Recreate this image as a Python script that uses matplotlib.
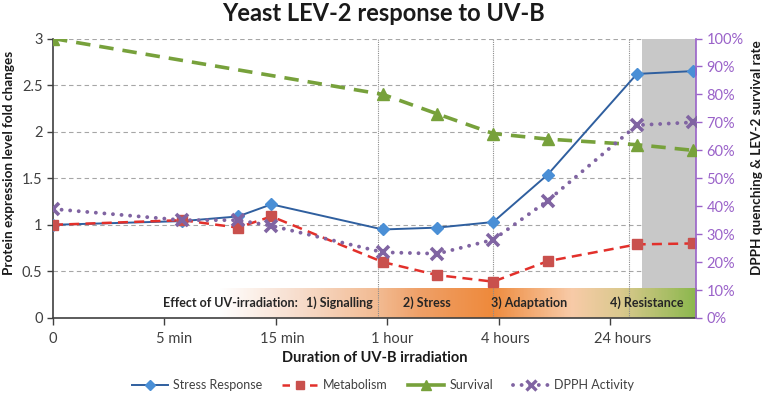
import numpy as np
import matplotlib
matplotlib.use('Agg')
import matplotlib.pyplot as plt
from matplotlib.colors import LinearSegmentedColormap
from matplotlib.lines import Line2D
from matplotlib.ticker import FuncFormatter

plt.rcParams['font.family'] = ['Lato', 'DejaVu Sans']

# data
tick_labels = ['0', '5 min', '15 min', '1 hour', '4 hours', '24 hours']
x_pos = [0, 1.16, 1.66, 1.96, 2.96, 3.45, 3.95, 4.44, 5.24, 5.74]
stress = [1.0, 1.04, 1.09, 1.22, 0.95, 0.97, 1.03, 1.54, 2.62, 2.65]
metabolism = [1.0, 1.05, 0.97, 1.09, 0.60, 0.46, 0.39, 0.61, 0.79, 0.80]
survival = [1.00, np.nan, np.nan, np.nan, 0.80, 0.73, 0.66, 0.64, 0.62, 0.60]
dpph = [0.39, 0.35, 0.35, 0.33, 0.235, 0.23, 0.28, 0.42, 0.69, 0.70]
phases = ['1) Signalling', '2) Stress', '3) Adaptation', '4) Resistance']
phase_x = [2.574, 3.359, 4.269, 5.327]

XMAX = 5.77
purple = '#9a62c9'

fig = plt.figure(figsize=(7.66, 3.95), dpi=100)
ax = fig.add_axes([0.0692, 0.195, 0.8394, 0.7075])
ax2 = ax.twinx()

ax.set_xlim(0, XMAX)
ax.set_ylim(0, 3)
ax2.set_ylim(0, 1)

# grid + shading
for yv in np.arange(0.5, 3.01, 0.5):
    ax.axhline(yv, color='#a6a6a6', lw=0.8, ls=(0, (4, 3)), zorder=0)
ax.axvspan(5.29, XMAX, color='#c8c8c8', zorder=0.5, lw=0)

# gradient band with phases
stops = [(0.0, '#ffffff'), (0.17, '#f7dccb'), (0.34, '#f2b98f'),
         (0.42, '#efa068'), (0.57, '#ee8a3c'), (0.74, '#f8cba8'),
         (0.84, '#dcc98f'), (1.0, '#8cb84e')]
cmap = LinearSegmentedColormap.from_list('band', stops)
grad = np.linspace(0, 1, 400).reshape(1, -1)
ax.imshow(grad, cmap=cmap, extent=[1.48, XMAX, 0, 0.32], aspect='auto',
          zorder=1, interpolation='bilinear')
ax.set_xlim(0, XMAX)
ax.set_ylim(0, 3)

for xv in [2.915, 3.946, 5.166]:
    ax.axvline(xv, color='#8c8c8c', lw=0.8, ls=(0, (1, 1)), zorder=1.5)

ax.text(1.596, 0.165, 'Effect of UV-irradiation:', ha='center', va='center',
        fontsize=9, fontweight='bold', color='#262626', zorder=2)
for t, xv in zip(phases, phase_x):
    ax.text(xv, 0.165, t, ha='center', va='center', fontsize=9,
            fontweight='bold', color='#262626', zorder=2)

# series
ax.plot(x_pos, stress, color='#2f5f9f', lw=1.4, marker='D', ms=6,
        mfc='#4a8fd6', mec='#4a8fd6', zorder=3)
ax.plot(x_pos, metabolism, color='#e2302b', lw=1.8, ls=(0, (4, 2.5)),
        marker='s', ms=6.5, mfc='#c9504d', mec='#c9504d', zorder=3)
sx = [x for x, s in zip(x_pos, survival) if not np.isnan(s)]
sy = [s for s in survival if not np.isnan(s)]
ax2.plot(sx, sy, color='#77a13b', lw=2.6, ls=(0, (4, 2.5)), marker='^', ms=8.5,
         mfc='#77a13b', mec='#77a13b', zorder=3)
ax2.plot(x_pos, dpph, color='#8064a2', lw=2.8, ls=(0, (0.01, 2.2)),
         dash_capstyle='round', marker='x', ms=9, mew=2.6, mec='#8064a2',
         zorder=3)

# axes styling
ax.set_xticks(range(len(tick_labels)))
ax.set_xticklabels([])
label_x = [0, 1.09, 2.06, 3.04, 4.06, 5.11]
for t, xv in zip(tick_labels, label_x):
    ax.text(xv, -0.075, t, ha='center', va='center', fontsize=10.5,
            color='#404040', transform=ax.get_xaxis_transform())
ax.set_yticks(np.arange(0, 3.01, 0.5))
ax.set_yticklabels(['0', '0.5', '1', '1.5', '2', '2.5', '3'])
ax.tick_params(axis='y', labelsize=10.5, colors='#404040', length=4, width=1)
ax.tick_params(axis='x', length=5, width=1, color='#404040')
for s in ['top', 'right']:
    ax.spines[s].set_visible(False)
for s in ['left', 'bottom']:
    ax.spines[s].set_color('#404040')
    ax.spines[s].set_linewidth(1.2)

ax2.set_yticks(np.arange(0, 1.01, 0.1))
ax2.yaxis.set_major_formatter(FuncFormatter(lambda v, p: f'{v*100:.0f}%'))
ax2.tick_params(axis='y', labelsize=10.5, colors=purple, length=4, width=1)
for s in ['top', 'left', 'bottom']:
    ax2.spines[s].set_visible(False)
ax2.spines['right'].set_color(purple)
ax2.spines['right'].set_linewidth(1.2)

ax.text(0.5, -0.143, 'Duration of UV-B irradiation', ha='center', va='center',
        fontsize=10.5, fontweight='bold', color='#1a1a1a', transform=ax.transAxes)
ax.set_ylabel('Protein expression level fold changes', fontsize=9.7,
              fontweight='bold', color='#1a1a1a', va='center')
ax.yaxis.set_label_coords(-0.068, 0.555)
ax2.set_ylabel('DPPH quenching & LEV-2 survival rate', fontsize=9.7,
               fontweight='bold', color='#1a1a1a', va='center')
ax2.yaxis.set_label_coords(1.095, 0.575)
fig.text(0.5, 0.965, 'Yeast LEV-2 response to UV-B', ha='center', va='center',
         fontsize=17, fontweight='bold', color='#1a1a1a')

handles = [
    Line2D([], [], color='#2f5f9f', lw=1.4, marker='D', ms=5, mfc='#4a8fd6', mec='#4a8fd6'),
    Line2D([], [], color='#e2302b', lw=1.8, ls=(0, (3, 2.5)), marker='s', ms=6, mfc='#c9504d', mec='#c9504d'),
    Line2D([], [], color='#77a13b', lw=2.6, marker='^', ms=7, mfc='#77a13b', mec='#77a13b'),
    Line2D([], [], color='#8064a2', lw=2.8, ls=(0, (0.01, 2.2)), dash_capstyle='round', marker='x', ms=7, mew=2.4),
]
fig.legend(handles, ['Stress Response', 'Metabolism', 'Survival', 'DPPH Activity'],
           loc='center', bbox_to_anchor=(0.5, 0.025), ncol=4, frameon=False,
           fontsize=9, handlelength=2.9, columnspacing=1.6, handletextpad=0.4,
           labelcolor='#404040')

fig.savefig('out.png', dpi=100)
